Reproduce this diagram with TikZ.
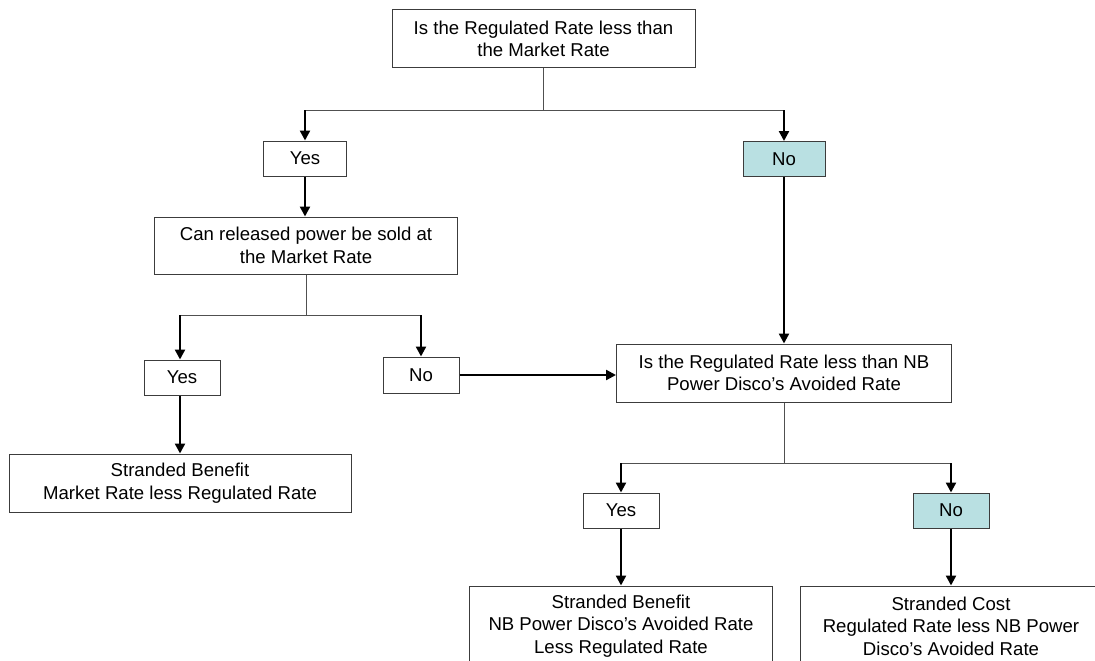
\documentclass[tikz,border=0pt]{standalone}
\usepackage{fontspec}
\setmainfont{Liberation Sans}
\usetikzlibrary{arrows.meta}
\definecolor{nofill}{RGB}{185,224,226}
\definecolor{boxline}{RGB}{60,60,60}
\definecolor{connline}{RGB}{80,80,80}
\tikzset{
  box/.style={draw=boxline, line width=1pt, fill=white, inner sep=0pt, align=center,
    font=\fontsize{18.6}{22.5}\selectfont},
  nobox/.style={box, fill=nofill},
  conn/.style={draw=connline, line width=1pt},
  arr/.style={draw=black, line width=2.3pt, -{Triangle[width=10pt,length=10pt]}},
}
\begin{document}
\begin{tikzpicture}[x=1pt,y=-1pt]
\useasboundingbox (0,0) rectangle (1095,661);
\clip (0,0) rectangle (1095,661);
% nodes
\node[box, minimum width=303pt, minimum height=58pt] (top) at (543.5,39) {Is the Regulated Rate less than\\the Market Rate};
\node[box, minimum width=83pt, minimum height=35pt] (yes1) at (305,158.5) {Yes};
\node[nobox, minimum width=82pt, minimum height=35pt] (no1) at (784,159) {No};
\node[box, minimum width=303pt, minimum height=57pt] (can) at (306,245.5) {Can released power be sold at\\the Market Rate};
\node[box, minimum width=76pt, minimum height=35pt] (yes2) at (182,377.5) {Yes};
\node[box, minimum width=76pt, minimum height=36pt] (no2) at (421,375) {No};
\node[box, minimum width=342pt, minimum height=58pt] (sb1) at (180,483) {Stranded Benefit\\Market Rate less Regulated Rate};
\node[box, minimum width=335pt, minimum height=58pt] (nb) at (784,373) {Is the Regulated Rate less than NB\\Power Disco’s Avoided Rate};
\node[box, minimum width=76pt, minimum height=35pt] (yes3) at (621,510.5) {Yes};
\node[nobox, minimum width=76pt, minimum height=35pt] (no3) at (951,510.5) {No};
\node[box, minimum width=303pt, minimum height=80pt] (sb2) at (621,626) {Stranded Benefit\\NB Power Disco’s Avoided Rate\\Less Regulated Rate};
\node[box, minimum width=302pt, minimum height=80pt] (sc) at (951,626) {Stranded Cost\\Regulated Rate less NB Power\\Disco’s Avoided Rate};
% junctions
\coordinate (j1) at (543.5,110);
\coordinate (j2) at (306,315);
\coordinate (j3) at (784,463);
% connectors
\draw[conn] (top.south) -- (j1);
\draw[conn] (j1 -| yes1) -- (j1 -| no1);
\draw[arr] (j1 -| yes1) -- (yes1.north);
\draw[arr] (j1 -| no1) -- (no1.north);
\draw[arr] (yes1.south) -- (can.north -| yes1);
\draw[conn] (can.south) -- (j2);
\draw[conn] (j2 -| sb1) -- (j2 -| no2);
\draw[arr] (j2 -| sb1) -- (yes2.north -| sb1);
\draw[arr] (j2 -| no2) -- (no2.north);
\draw[arr] (yes2.south -| sb1) -- (sb1.north);
\draw[arr] (no2.east) -- (nb.west |- no2.east);
\draw[arr] (no1.south) -- (nb.north);
\draw[conn] (nb.south) -- (j3);
\draw[conn] (j3 -| yes3) -- (j3 -| no3);
\draw[arr] (j3 -| yes3) -- (yes3.north);
\draw[arr] (j3 -| no3) -- (no3.north);
\draw[arr] (yes3.south) -- (sb2.north);
\draw[arr] (no3.south) -- (sc.north);
\end{tikzpicture}
\end{document}
